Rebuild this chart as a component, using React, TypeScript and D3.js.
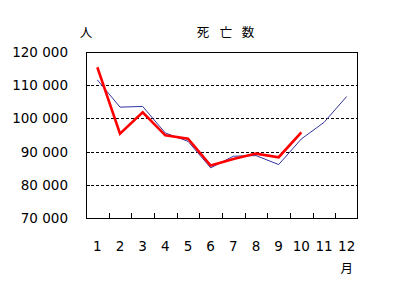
import React from "react";
import * as d3 from "d3";

const months = ["1", "2", "3", "4", "5", "6", "7", "8", "9", "10", "11", "12"];
const prevYear = [111600, 103400, 103600, 95600, 93100, 85100, 88600, 88800, 86100, 93800, 98800, 106600];
const currYear = [115400, 95400, 101800, 94900, 93900, 85800, 87800, 89400, 88300, 95800];
const yTicks = [70000, 80000, 90000, 100000, 110000, 120000];
const titleChars = ["死", "亡", "数"];

const W = 404, H = 290;
const L = 86, R = 358, T = 52, B = 218;

export default function App() {
  const x = d3.scaleBand<string>().domain(months).range([L, R]);
  const y = d3.scaleLinear().domain([70000, 120000]).range([B, T]);
  const cx = (i: number) => (x(months[i]) as number) + x.bandwidth() / 2;
  const line = d3.line<number>().x((_, i) => cx(i)).y((d) => y(d));
  const fmt = (v: number) => d3.format(",")(v).replace(/,/g, " ");
  const font = "'DejaVu Sans', Verdana, sans-serif";
  const cjk = "'Noto Sans CJK JP', sans-serif";
  const titleX = [203, 226, 248];
  return (
    <svg width={W} height={H} style={{ position: "absolute", left: 0, top: 0, background: "#fff" }}>
      <text x={86} y={37} fontSize={12.5} fontFamily={cjk} textAnchor="middle">人</text>
      {titleChars.map((c, i) => (
        <text key={c} x={titleX[i]} y={37} fontSize={12.5} fontFamily={cjk} textAnchor="middle">{c}</text>
      ))}
      {yTicks.map((t) => (
        <g key={t}>
          {t > 70000 && t < 120000 && (
            <line x1={L} x2={R} y1={Math.round(y(t)) + 0.5} y2={Math.round(y(t)) + 0.5} stroke="#000" strokeDasharray="3,2" />
          )}
          <line x1={L} x2={L + 4} y1={Math.round(y(t)) + 0.5} y2={Math.round(y(t)) + 0.5} stroke="#000" strokeWidth={1} />
          <text x={68} y={y(t) + 5} fontSize={13.5} fontFamily={font} textAnchor="end" fill="#000">{fmt(t)}</text>
        </g>
      ))}
      {months.slice(1).map((m) => (
        <line key={m} x1={Math.round(x(m) as number) + 0.5} x2={Math.round(x(m) as number) + 0.5} y1={B + 0.5} y2={B - 5} stroke="#000" strokeWidth={1} />
      ))}
      <rect x={L + 0.5} y={T + 0.5} width={R - L - 1} height={B - T} fill="none" stroke="#000" strokeWidth={1} />
      <path d={line(prevYear) || ""} fill="none" stroke="#3333a0" strokeWidth={1} />
      <path d={line(currYear) || ""} fill="none" stroke="#ff0000" strokeWidth={2.6} strokeLinejoin="miter" />
      {months.map((m, i) => (
        <text key={m} x={cx(i)} y={251} fontSize={13.5} fontFamily={font} textAnchor="middle">{m}</text>
      ))}
      <text x={cx(11)} y={273} fontSize={12.5} fontFamily={cjk} textAnchor="middle">月</text>
    </svg>
  );
}
